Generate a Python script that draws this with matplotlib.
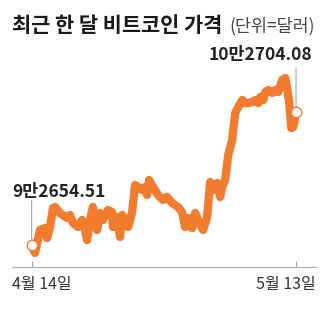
import matplotlib
matplotlib.use("Agg")
import matplotlib.pyplot as plt

plt.rcParams["font.family"] = ["Noto Sans CJK KR", "DejaVu Sans"]

# --- Data (days since 4/14, price in USD) ---
days = [0.00, 0.36, 0.91, 1.46, 1.68, 2.01, 2.34, 2.56, 3.10, 3.87, 4.20, 4.53,
        5.08, 5.52, 5.85, 6.07, 6.40, 6.72, 6.94, 7.17, 7.49, 7.82, 8.37, 8.81,
        8.92, 9.36, 9.69, 9.91, 10.24, 10.57, 11.01, 11.34, 11.67, 12.11, 12.44,
        12.66, 12.88, 13.32, 13.86, 14.41, 14.85, 15.40, 16.05, 16.49, 16.82,
        17.16, 17.60, 17.93, 18.26, 18.81, 19.25, 19.58, 19.91, 20.35, 20.68,
        20.90, 21.23, 21.56, 22.00, 22.11, 22.33, 22.66, 23.10, 23.43, 23.76,
        24.20, 24.53, 24.86, 25.08, 25.41, 25.63, 25.96, 26.40, 26.73, 27.05,
        27.49, 27.82, 28.04, 28.26, 28.48, 28.70, 29.00]
prices = [92654.51, 92050, 93788, 93939, 93183, 94015, 95450, 95526, 95072, 94695,
          94921, 94317, 94015, 94543, 93788, 93032, 94543, 95526, 94543, 93788,
          95072, 94543, 95299, 95148, 94015, 94770, 93259, 94921, 94543, 94015,
          95072, 97188, 97037, 96810, 97037, 96432, 97566, 97037, 96432, 96054,
          96281, 95828, 95526, 95148, 94015, 94695, 93939, 95072, 94543, 93788,
          94770, 97415, 96810, 97339, 96281, 97037, 97566, 99455, 100588, 101344,
          102628, 103082, 103611, 103384, 103384, 103460, 103611, 103384, 103837,
          103611, 104215, 104366, 104140, 104366, 104215, 105122, 105273, 104366,
          103384, 101495, 101570, 102704.08]
tick_days = [0, 29]
tick_labels = ["4월 14일", "5월 13일"]
start_label = "9만2654.51"
end_label = "10만2704.08"

ORANGE = "#F37B2D"
GRAY = "#9a9a9a"

fig = plt.figure(figsize=(3.29, 3.32), dpi=100)
ax = fig.add_axes([12 / 329, 1 - 267 / 332, 304 / 329, 207 / 332])
ax.set_xlim(-2.16, 31.19)
ax.set_ylim(90992, 106633)

ax.plot(days, prices, color=ORANGE, lw=6, solid_joinstyle="round",
        solid_capstyle="round", zorder=3)

# end markers
for i in (0, -1):
    ax.plot(days[i], prices[i], "o", ms=7.5, mfc="white", mec=ORANGE,
            mew=1.0, zorder=4, clip_on=False)

# leader lines + value labels
ax.annotate("", xy=(days[-1], prices[-1]), xytext=(0, 32), textcoords="offset points",
            arrowprops=dict(arrowstyle="-", color=GRAY, lw=0.7, shrinkA=0, shrinkB=3.5))
ax.annotate("", xy=(days[0], prices[0]), xytext=(0, 32), textcoords="offset points",
            arrowprops=dict(arrowstyle="-", color=GRAY, lw=0.7, shrinkA=0, shrinkB=3.5))
ax.annotate(end_label, xy=(days[-1], prices[-1]), xytext=(12, 41),
            textcoords="offset points", ha="right", va="center",
            fontsize=12.5, fontweight="bold", color="#222222")
ax.annotate(start_label, xy=(days[0], prices[0]), xytext=(-14, 38),
            textcoords="offset points", ha="left", va="center",
            fontsize=12.5, fontweight="bold", color="#222222")

# axis
for s in ["top", "right", "left"]:
    ax.spines[s].set_visible(False)
ax.spines["bottom"].set_color("#b0b0b0")
ax.spines["bottom"].set_linewidth(0.9)
ax.set_yticks([])
ax.set_xticks(tick_days)
ax.tick_params(axis="x", direction="in", length=4, width=0.7, color=GRAY,
               labelbottom=False)
fig.text(12 / 329, 1 - 284 / 332, tick_labels[0], ha="left", va="center",
         fontsize=11.5, color="#333333")
fig.text(316 / 329, 1 - 284 / 332, tick_labels[1], ha="right", va="center",
         fontsize=11.5, color="#333333")

# title
fig.text(12 / 329, 1 - 25 / 332, "최근 한 달 비트코인 가격", ha="left",
         va="center", fontsize=15, fontweight="bold", color="#1a1a1a")
fig.text(315 / 329, 1 - 26 / 332, "(단위=달러)", ha="right", va="center",
         fontsize=12.5, color="#444444")

fig.savefig("out.png", dpi=100)
